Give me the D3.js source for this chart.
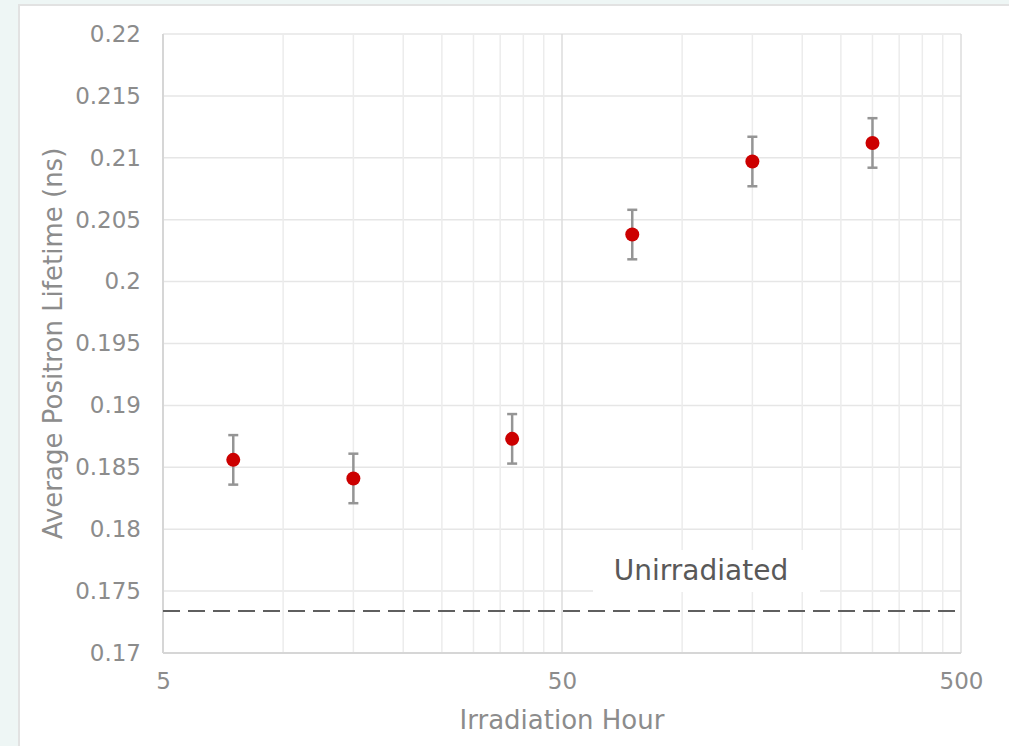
<!DOCTYPE html>
<html lang="en">
<head>
<meta charset="UTF-8">
<title>Average Positron Lifetime vs Irradiation Hour</title>
<style>
    html, body { margin: 0; padding: 0; background: #eef6f5; }
    body { width: 1009px; height: 746px; overflow: hidden; position: relative; }
    .panel {
        position: absolute; left: 18px; top: 4px; width: 1000px; height: 760px;
        background: #fff; border-left: 2px solid #e2e2e2; border-top: 2px solid #e2e2e2;
    }
    svg { position: absolute; left: 0; top: 0; font-family: "DejaVu Sans", Verdana, sans-serif; }
</style>
</head>
<body>
<div class="panel"></div>
<script src="https://d3js.org/d3.v7.min.js"></script>
<script>
    // data
    const hours = [7.5, 15, 37.5, 75, 150, 300];
    const lifetime = [0.1856, 0.1841, 0.1873, 0.2038, 0.2097, 0.2112];
    const errors = [0.002, 0.002, 0.002, 0.002, 0.002, 0.002];
    const unirradiated = 0.1734;
    const yTicks = [0.17, 0.175, 0.18, 0.185, 0.19, 0.195, 0.2, 0.205, 0.21, 0.215, 0.22];
    const xMajor = [5, 50, 500];
    const xMinor = [10, 15, 20, 25, 30, 35, 40, 45, 100, 150, 200, 250, 300, 350, 400, 450];

    const w = 1009, h = 746;
    const mLeft = 163, mRight = 961, mTop = 34, mBottom = 653;

    const svg = d3.select("body").append("svg")
        .attr("width", w)
        .attr("height", h);

    const x = d3.scaleLog().domain([5, 500]).range([mLeft, mRight]);
    const y = d3.scaleLinear().domain([0.17, 0.22]).range([mBottom, mTop]);

    //gridlines
    svg.append("g").selectAll("line")
        .data(yTicks)
        .enter().append("line")
        .attr("x1", mLeft).attr("x2", mRight)
        .attr("y1", d => y(d)).attr("y2", d => y(d))
        .attr("stroke", "#e6e6e6").attr("stroke-width", 1.5);

    svg.append("g").selectAll("line")
        .data(xMinor)
        .enter().append("line")
        .attr("x1", d => x(d)).attr("x2", d => x(d))
        .attr("y1", mTop).attr("y2", mBottom)
        .attr("stroke", "#ececec").attr("stroke-width", 1.5);

    svg.append("g").selectAll("line")
        .data(xMajor)
        .enter().append("line")
        .attr("x1", d => x(d)).attr("x2", d => x(d))
        .attr("y1", mTop).attr("y2", mBottom)
        .attr("stroke", "#dcdcdc").attr("stroke-width", 1.5);

    // axis lines
    svg.append("line")
        .attr("x1", mLeft).attr("x2", mLeft).attr("y1", mTop).attr("y2", mBottom)
        .attr("stroke", "#d6d6d6").attr("stroke-width", 2);
    svg.append("line")
        .attr("x1", mLeft).attr("x2", mRight).attr("y1", mBottom).attr("y2", mBottom)
        .attr("stroke", "#d6d6d6").attr("stroke-width", 2);

    // tick labels via d3 axes, without lines
    const yAxis = d3.axisLeft(y).tickValues(yTicks).tickSize(0).tickPadding(22)
        .tickFormat(d => String(+d.toFixed(3)));
    const gy = svg.append("g").attr("transform", "translate(" + mLeft + ",0)").call(yAxis);
    const xAxis = d3.axisBottom(x).tickValues(xMajor).tickSize(0).tickPadding(20)
        .tickFormat(d3.format("d"));
    const gx = svg.append("g").attr("transform", "translate(0," + mBottom + ")").call(xAxis);
    [gy, gx].forEach(g => {
        g.select(".domain").remove();
        g.selectAll("text")
            .attr("fill", "#8c8c8c")
            .style("font-size", "23px")
            .style("font-family", "'DejaVu Sans', Verdana, sans-serif");
    });

    // unirradiated reference line + label
    svg.append("rect")
        .attr("x", 593).attr("y", 550).attr("width", 227).attr("height", 42)
        .attr("fill", "#fff");
    svg.append("text")
        .attr("x", 701).attr("y", 580)
        .attr("text-anchor", "middle")
        .attr("fill", "#595959")
        .style("font-size", "28px")
        .text("Unirradiated");

    svg.append("line")
        .attr("x1", mLeft).attr("x2", mRight)
        .attr("y1", y(unirradiated)).attr("y2", y(unirradiated))
        .attr("stroke", "#5f5f5f").attr("stroke-width", 2)
        .attr("stroke-dasharray", "17,8");

    // error bars
    const pts = hours.map((d, i) => ({ h: d, v: lifetime[i], e: errors[i] }));
    const eb = svg.append("g").attr("stroke", "#959595").attr("stroke-width", 2.5);
    eb.selectAll(".stem").data(pts).enter().append("line")
        .attr("x1", d => x(d.h)).attr("x2", d => x(d.h))
        .attr("y1", d => y(d.v - d.e)).attr("y2", d => y(d.v + d.e));
    eb.selectAll(".capTop").data(pts).enter().append("line")
        .attr("x1", d => x(d.h) - 5).attr("x2", d => x(d.h) + 5)
        .attr("y1", d => y(d.v + d.e)).attr("y2", d => y(d.v + d.e));
    eb.selectAll(".capBot").data(pts).enter().append("line")
        .attr("x1", d => x(d.h) - 5).attr("x2", d => x(d.h) + 5)
        .attr("y1", d => y(d.v - d.e)).attr("y2", d => y(d.v - d.e));

    // points
    svg.selectAll("circle")
        .data(pts)
        .enter()
        .append("circle")
        .attr("cx", d => x(d.h))
        .attr("cy", d => y(d.v))
        .attr("r", 7)
        .style("fill", "#cc0000");

    // axis titles
    svg.append("text")
        .attr("text-anchor", "middle")
        .attr("x", (mLeft + mRight) / 2)
        .attr("y", 729)
        .attr("fill", "#8c8c8c")
        .style("font-size", "26px")
        .text("Irradiation Hour");

    svg.append("text")
        .attr("text-anchor", "middle")
        .attr("x", -(mTop + mBottom) / 2)
        .attr("y", 62)
        .attr("transform", "rotate(-90)")
        .attr("fill", "#8c8c8c")
        .style("font-size", "26px")
        .text("Average Positron Lifetime (ns)");
</script>
</body>
</html>
